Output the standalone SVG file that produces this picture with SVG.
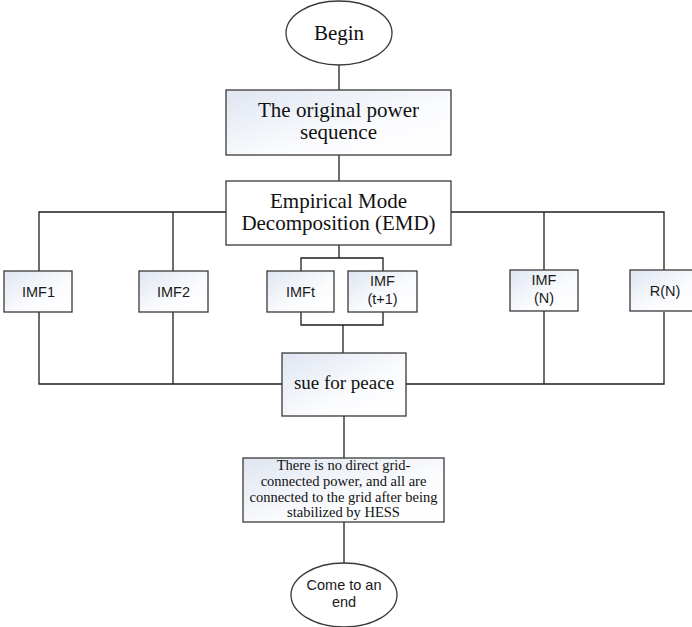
<svg xmlns="http://www.w3.org/2000/svg" width="692" height="627" viewBox="0 0 692 627">
  <defs>
    <linearGradient id="boxFill" x1="0" y1="0" x2="1" y2="1">
      <stop offset="0" stop-color="#dfe5f1"/>
      <stop offset="0.6" stop-color="#fbfcfe"/>
      <stop offset="1" stop-color="#ffffff"/>
    </linearGradient>
  </defs>
  <style>
    .box { fill: url(#boxFill); stroke: #3a3a3a; stroke-width: 1.3; }
    .plain { fill: #ffffff; stroke: #3a3a3a; stroke-width: 1.3; }
    .wire { fill: none; stroke: #1e1e1e; stroke-width: 1.3; }
    .serif { font-family: "Liberation Serif", "Times New Roman", serif; fill: #111111; text-anchor: middle; }
    .sans { font-family: "Liberation Sans", Arial, sans-serif; fill: #1a1a1a; text-anchor: middle; font-size: 14.5px; }
  </style>
  <rect width="692" height="627" fill="#ffffff"/>

  <!-- connectors -->
  <g id="connectors" class="wire">
    <path d="M339 65 V90"/>
    <path d="M339 155 V181"/>
    <path d="M226 212 H39 V271"/>
    <path d="M173 212 V271"/>
    <path d="M451 212 H664 V271"/>
    <path d="M544 212 V270"/>
    <path d="M339 245 V258"/>
    <path d="M301 271 V258 H383 V271"/>
    <path d="M301 312 V325 H383 V312"/>
    <path d="M343 325 V353"/>
    <path d="M39 312 V384 H282"/>
    <path d="M173 312 V384"/>
    <path d="M406 384 H664 V312"/>
    <path d="M544 311 V384"/>
    <path d="M344 416 V458"/>
    <path d="M344 522 V563"/>
  </g>

  <g id="begin">
    <ellipse class="plain" cx="339" cy="33" rx="53" ry="32"/>
    <text class="serif" x="339" y="40" font-size="21">Begin</text>
  </g>

  <g id="original-sequence">
    <rect class="box" x="226" y="90" width="225" height="65"/>
    <text class="serif" x="338.5" y="117" font-size="21">The original power</text>
    <text class="serif" x="338.5" y="139" font-size="21">sequence</text>
  </g>

  <g id="emd">
    <rect class="plain" x="226" y="181" width="225" height="64"/>
    <text class="serif" x="338.5" y="208" font-size="21">Empirical Mode</text>
    <text class="serif" x="338.5" y="230" font-size="21">Decomposition (EMD)</text>
  </g>

  <g id="imf1">
    <rect class="box" x="4" y="271" width="68" height="41"/>
    <text class="sans" x="38.5" y="296.5">IMF1</text>
  </g>

  <g id="imf2">
    <rect class="box" x="139" y="271" width="69" height="41"/>
    <text class="sans" x="173.5" y="296.5">IMF2</text>
  </g>

  <g id="imft">
    <rect class="box" x="267" y="271" width="67" height="41"/>
    <text class="sans" x="300.5" y="296.5">IMFt</text>
  </g>

  <g id="imf-t1">
    <rect class="box" x="348" y="271" width="69" height="41"/>
    <text class="sans" x="382.5" y="286">IMF</text>
    <text class="sans" x="382.5" y="304">(t+1)</text>
  </g>

  <g id="imf-n">
    <rect class="box" x="510" y="270" width="68" height="41"/>
    <text class="sans" x="544" y="285">IMF</text>
    <text class="sans" x="544" y="303">(N)</text>
  </g>

  <g id="residual">
    <rect class="box" x="630" y="270" width="70" height="41"/>
    <text class="sans" x="665" y="295.5">R(N)</text>
  </g>

  <g id="sum">
    <rect class="box" x="282" y="353" width="124" height="63"/>
    <text class="serif" x="344" y="389" font-size="19">sue for peace</text>
  </g>

  <g id="hess">
    <rect class="box" x="243" y="458" width="201" height="64"/>
    <text class="serif" x="343.5" y="470" font-size="14.5">There is no direct grid-</text>
    <text class="serif" x="343.5" y="486" font-size="14.5">connected power, and all are</text>
    <text class="serif" x="343.5" y="502" font-size="14.5">connected to the grid after being</text>
    <text class="serif" x="343.5" y="517" font-size="14.5">stabilized by HESS</text>
  </g>

  <g id="end">
    <ellipse class="plain" cx="344" cy="595" rx="53" ry="32"/>
    <text class="sans" x="344" y="590" font-size="14.5">Come to an</text>
    <text class="sans" x="344" y="607" font-size="14.5">end</text>
  </g>
</svg>
